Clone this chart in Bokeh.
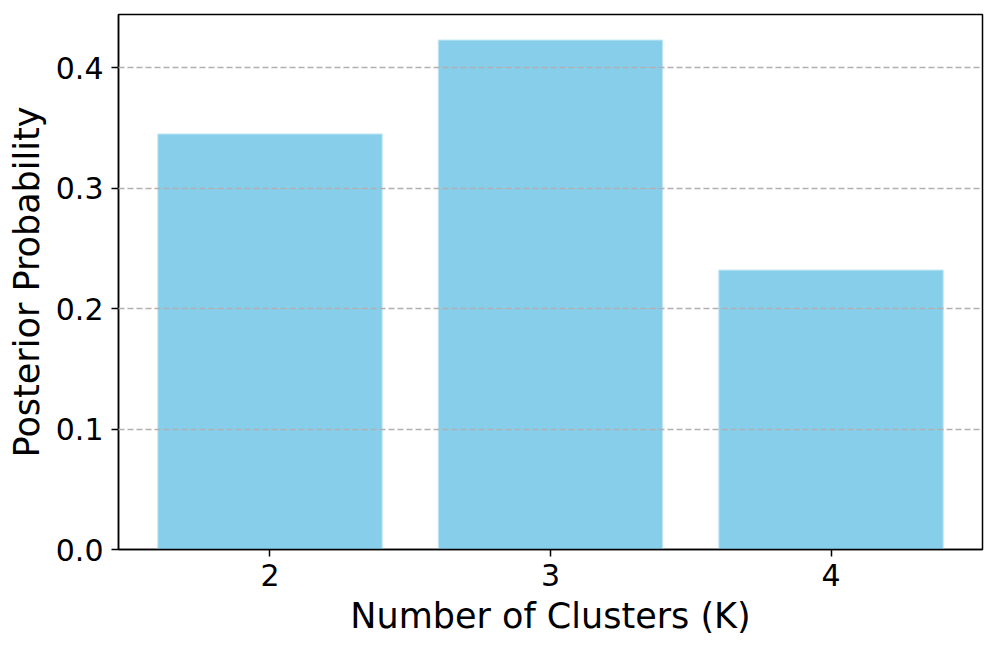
from bokeh.plotting import figure
from bokeh.models import ColumnDataSource, FixedTicker, Range1d
from bokeh.embed import file_html
from bokeh.resources import INLINE

clusters = [2, 3, 4]
probabilities = [0.345, 0.423, 0.232]
y_ticks = [0.0, 0.1, 0.2, 0.3, 0.4]
y_tick_labels = ["0.0", "0.1", "0.2", "0.3", "0.4"]

src = ColumnDataSource(dict(k=clusters, p=probabilities))

p = figure(width=990, height=643, output_backend="svg", toolbar_location=None,
           x_range=Range1d(1.46, 4.54), y_range=Range1d(0, 0.4442),
           min_border_left=118, min_border_right=8, min_border_top=14, min_border_bottom=94)

p.vbar(x="k", top="p", width=0.8, bottom=0, source=src,
       fill_color="#87CEEB", line_color="#c4e6f4", line_width=1)

p.xgrid.visible = False
p.ygrid.grid_line_color = "#b0b0b0"
p.ygrid.grid_line_dash = "6 3"
p.ygrid.grid_line_width = 1.3
p.ygrid.level = "annotation"

p.outline_line_color = "black"
p.outline_line_width = 1.5
p.outline_line_alpha = 1

p.xaxis.ticker = FixedTicker(ticks=clusters)
p.yaxis.ticker = FixedTicker(ticks=y_ticks)
p.yaxis.major_label_overrides = {t: l for t, l in zip(y_ticks, y_tick_labels)}
p.xaxis.axis_label = "Number of Clusters (K)"
p.yaxis.axis_label = "Posterior Probability"

for ax in (p.xaxis, p.yaxis):
    ax.minor_tick_line_color = None
    ax.major_tick_in = 0
    ax.major_tick_out = 7
    ax.major_tick_line_width = 1.5
    ax.axis_line_width = 1.5
    ax.axis_line_color = "black"
    ax.major_tick_line_color = "black"
    ax.major_label_text_font = "DejaVu Sans"
    ax.major_label_text_font_size = "30px"
    ax.major_label_text_color = "black"
    ax.axis_label_text_font = "DejaVu Sans"
    ax.axis_label_text_font_size = "35px"
    ax.axis_label_text_font_style = "normal"
    ax.axis_label_text_color = "black"

p.yaxis.major_label_standoff = 8
p.yaxis.axis_label_standoff = 6
p.xaxis.major_label_standoff = 7
p.xaxis.axis_label_standoff = 7

open("out.html", "w").write(file_html(p, INLINE))
